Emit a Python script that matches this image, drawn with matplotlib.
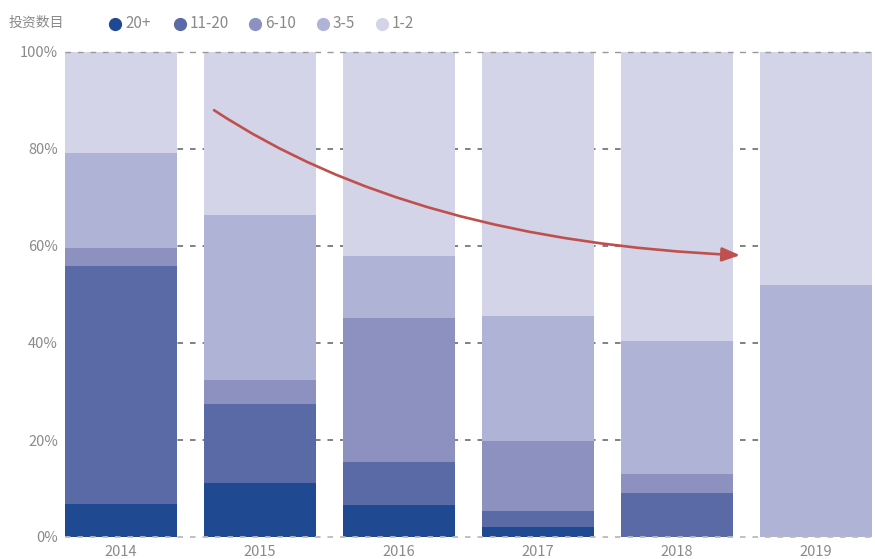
import matplotlib
matplotlib.use("Agg")
import matplotlib.pyplot as plt
from matplotlib.patches import FancyArrowPatch
from matplotlib.path import Path
from matplotlib.lines import Line2D
import numpy as np

plt.rcParams['font.family'] = ['Noto Sans CJK SC', 'DejaVu Sans']
plt.rcParams['lines.scale_dashes'] = False

years = ['2014', '2015', '2016', '2017', '2018', '2019']
groups = ['20+', '11-20', '6-10', '3-5', '1-2']
share_20plus = [6.8, 11.1, 6.6, 2.1, 0.0, 0.0]
share_11_20 = [49.1, 16.3, 8.9, 3.3, 9.1, 0.0]
share_6_10 = [3.7, 5.0, 29.7, 14.4, 3.9, 0.0]
share_3_5 = [19.6, 34.0, 12.7, 25.8, 27.4, 52.0]
share_1_2 = [20.8, 33.6, 42.1, 54.4, 59.6, 48.0]
y_ticks = [0, 20, 40, 60, 80, 100]
y_tick_labels = ['0%', '20%', '40%', '60%', '80%', '100%']

series = [share_20plus, share_11_20, share_6_10, share_3_5, share_1_2]
colors = ['#1f4a92', '#5a6aa6', '#8c91c0', '#afb3d6', '#d3d4e7']
text_gray = '#8a8a8a'

fig = plt.figure(figsize=(8.75, 5.59), dpi=100)
ax = fig.add_axes([65 / 875, 22 / 559, 810 / 875, 485 / 559])

x = np.arange(len(years))
bottom = np.zeros(len(years))
for vals, col in zip(series, colors):
    ax.bar(x, vals, width=0.806, bottom=bottom, color=col, zorder=2, linewidth=0)
    bottom += np.array(vals)

ax.set_xlim(-0.403, 5.424)
ax.set_ylim(0, 100)

for t in y_ticks[1:]:
    ax.axhline(t, color='#777777', lw=1.3, ls=(0, (4, 5)), zorder=1)
ax.axhline(100, color='#999999', lw=1.0, ls=(0, (4, 5)), zorder=3, clip_on=False)
ax.axhline(0, color='#bbbbbb', lw=1.3, ls=(0, (4, 5)), zorder=3, clip_on=False)

for s in ax.spines.values():
    s.set_visible(False)
ax.set_yticks(y_ticks)
ax.set_yticklabels(y_tick_labels)
ax.set_xticks(x)
ax.set_xticklabels(years)
ax.tick_params(axis='both', length=0, colors=text_gray, labelsize=10.5)
ax.tick_params(axis='y', pad=5)
ax.tick_params(axis='x', pad=6)

# trend arrow
verts = [(0.669, 88.0), (2.1, 61.0), (4.453, 58.1)]
trend = Path(verts, [Path.MOVETO, Path.CURVE3, Path.CURVE3])
arrow = FancyArrowPatch(path=trend, arrowstyle='-|>,head_length=0.9,head_width=0.35',
                        mutation_scale=12, color='#c0504d', lw=1.9, zorder=4)
ax.add_patch(arrow)

# legend
fig.text(9 / 875, 1 - 23 / 559, '投资数目', color=text_gray, fontsize=10,
         va='center', ha='left')
marker_x = [115, 180, 255, 323, 382]
for mx, lab, col in zip(marker_x, groups, colors):
    fig.add_artist(Line2D([mx / 875], [1 - 24 / 559], marker='o', markersize=8.5,
                          color=col, linestyle='none', transform=fig.transFigure))
    fig.text((mx + 10) / 875, 1 - 24 / 559, lab, color=text_gray, fontsize=11,
             va='center', ha='left')

fig.savefig('out.png', dpi=100)
